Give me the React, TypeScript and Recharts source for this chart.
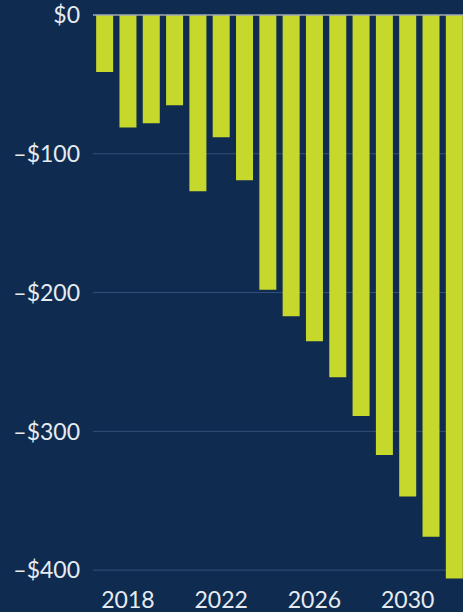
import { BarChart, Bar, XAxis, YAxis, CartesianGrid, ReferenceLine } from 'recharts'

// fiscal years and balance (billions of dollars)
const years = ['2017', '2018', '2019', '2020', '2021', '2022', '2023', '2024', '2025', '2026', '2027', '2028', '2029', '2030', '2031', '2032']
const balance = [-41, -81, -78, -65, -127, -88, -119, -198, -217, -235, -261, -289, -317, -347, -376, -406]
const yTicks = [0, -100, -200, -300, -400]
const xLabels = ['2018', '2022', '2026', '2030']

const data = years.map((year, i) => ({ year, value: balance[i] }))

const bg = '#0f2b50'
const tickStyle = { fontSize: 23, fontFamily: 'Lato', fill: '#e6ebf1' }

const fmtMoney = (v: number) => (v < 0 ? `–$${Math.abs(v)}` : `$${v}`)

export default function App() {
  return (
    <div style={{ position: 'fixed', left: 0, top: 0, width: 463, height: 612, overflow: 'hidden', background: bg }}>
      <BarChart width={466} height={612} data={data} margin={{ top: 15, right: 0, bottom: 0, left: 0 }} barCategoryGap="13.5%">
        <CartesianGrid vertical={false} horizontalValues={yTicks.slice(1)} stroke="#34507a" strokeWidth={1} />
        <XAxis dataKey="year" height={28} axisLine={false} tickLine={false} interval={0}
          tick={tickStyle} tickFormatter={(v: string) => (xLabels.includes(v) ? v : '')} />
        <YAxis width={93} domain={[-410, 0]} ticks={yTicks} axisLine={false} tickLine={false}
          tickMargin={7} tick={tickStyle} tickFormatter={fmtMoney} />
        <ReferenceLine y={0} stroke="#a3abb8" strokeWidth={1.5} />
        <Bar dataKey="value" fill="#c6d82c" isAnimationActive={false} />
      </BarChart>
    </div>
  )
}
